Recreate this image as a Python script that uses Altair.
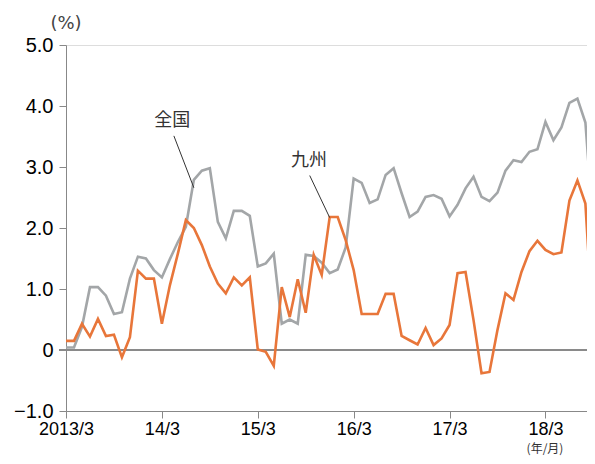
import altair as alt
import pandas as pd

# ---- data (monthly, 2013/3 onward) ----
zenkoku = [0.04, 0.04, 0.38, 1.03, 1.03, 0.89, 0.59, 0.62, 1.17, 1.53, 1.50, 1.31,
           1.19, 1.49, 1.77, 2.02, 2.79, 2.94, 2.98, 2.10, 1.83, 2.28, 2.28, 2.20,
           1.37, 1.42, 1.58, 0.43, 0.50, 0.43, 1.56, 1.54, 1.43, 1.26, 1.32, 1.68,
           2.81, 2.74, 2.41, 2.47, 2.87, 2.98, 2.57, 2.18, 2.27, 2.51, 2.54, 2.48,
           2.19, 2.38, 2.65, 2.84, 2.51, 2.44, 2.58, 2.94, 3.11, 3.08, 3.25, 3.29,
           3.74, 3.44, 3.65, 4.05, 4.12, 3.73, 1.97]
kyushu = [0.15, 0.15, 0.43, 0.22, 0.51, 0.23, 0.25, -0.12, 0.21, 1.30, 1.17, 1.17,
          0.43, 1.06, 1.58, 2.13, 2.00, 1.72, 1.37, 1.09, 0.93, 1.19, 1.06, 1.19,
          0.01, -0.03, -0.26, 1.03, 0.54, 1.16, 0.61, 1.56, 1.23, 2.18, 2.18, 1.80,
          1.31, 0.59, 0.59, 0.59, 0.92, 0.92, 0.23, 0.16, 0.09, 0.36, 0.08, 0.19,
          0.41, 1.26, 1.28, 0.49, -0.38, -0.36, 0.33, 0.93, 0.82, 1.28, 1.62, 1.79,
          1.64, 1.57, 1.60, 2.45, 2.78, 2.40, 0.22]
x_tick_labels = ["2013/3", "14/3", "15/3", "16/3", "17/3", "18/3"]
x_tick_values = [0, 12, 24, 36, 48, 60]
y_tick_values = [-1, 0, 1, 2, 3, 4, 5]
series_names = ["全国", "九州"]
colors = ["#a3a6a8", "#e8763a"]

month_index = list(range(len(zenkoku)))
df = pd.DataFrame({
    "m": month_index * 2,
    "v": zenkoku + kyushu,
    "s": [series_names[0]] * len(zenkoku) + [series_names[1]] * len(kyushu),
})

# annotation label positions and leader lines (data units)
ann = pd.DataFrame({
    "label": series_names,
    "tx": [13.3, 30.4], "ty": [3.76, 3.1],
    "x1": [13.5, 30.5], "y1": [3.51, 2.86],
    "x2": [16.0, 33.0], "y2": [2.66, 2.17],
})

FONT = "DejaVu Sans"
CJK = "Noto Sans CJK JP"
W, H = 521, 366
xscale = alt.Scale(domain=[0, 65.2], nice=False, zero=False)
yscale = alt.Scale(domain=[-1, 5], nice=False)

label_expr_x = "[" + ",".join("'%s'" % t for t in x_tick_labels) + "][round(datum.value/12)]"

base = alt.Chart(df)

lines = base.mark_line(strokeWidth=2.6, clip=True).encode(
    x=alt.X("m:Q", scale=xscale, axis=alt.Axis(
        values=x_tick_values, labelExpr=label_expr_x, title=None, grid=False,
        tickSize=7, labelPadding=2, labelFontSize=18, labelFlush=False,
        labelOverlap=False)),
    y=alt.Y("v:Q", scale=yscale, axis=alt.Axis(
        values=y_tick_values, title=None, grid=False, tickSize=7, labelPadding=6,
        labelExpr="datum.value == 0 ? '0' : format(datum.value, '.1f')",
        labelFontSize=20, labelFlush=False, labelOverlap=False)),
    color=alt.Color("s:N", scale=alt.Scale(domain=series_names, range=colors), legend=None),
    detail="s:N",
)

zero = alt.Chart(pd.DataFrame({"z": [0]})).mark_rule(color="#8a8a8a", strokeWidth=2).encode(
    y=alt.Y("z:Q", scale=yscale),
    x=alt.value(-7), x2=alt.value(W),
)

leaders = alt.Chart(ann).mark_rule(color="#333333", strokeWidth=1).encode(
    x=alt.X("x1:Q", scale=xscale), y=alt.Y("y1:Q", scale=yscale),
    x2="x2:Q", y2="y2:Q",
)

labels = alt.Chart(ann).mark_text(font=CJK, fontSize=18, color="#333333").encode(
    x=alt.X("tx:Q", scale=xscale), y=alt.Y("ty:Q", scale=yscale), text="label:N",
)

unit_y = alt.Chart(pd.DataFrame({"t": ["(%)"]})).mark_text(
    font=FONT, fontSize=18, color="#444444").encode(
    x=alt.value(0), y=alt.value(-21), text="t:N")

unit_x = alt.Chart(pd.DataFrame({"t": ["(年/月)"]})).mark_text(
    font=CJK, fontSize=12, color="#333333", baseline="bottom").encode(
    x=alt.value(479), y=alt.value(410.5), text="t:N")

chart = alt.layer(zero, lines, leaders, labels, unit_y, unit_x).properties(
    width=W, height=H,
    autosize=alt.AutoSizeParams(type="none"),
    padding={"left": 58, "top": 37, "right": 0, "bottom": 45},
).configure_view(stroke=None).configure_axis(
    domainColor="#808080", domainWidth=1.6, tickColor="#808080", tickWidth=1.4,
    labelColor="#444444", labelFont=FONT,
).configure(background="white")

chart.save("out.html", embed_options={"renderer": "svg", "actions": False})
